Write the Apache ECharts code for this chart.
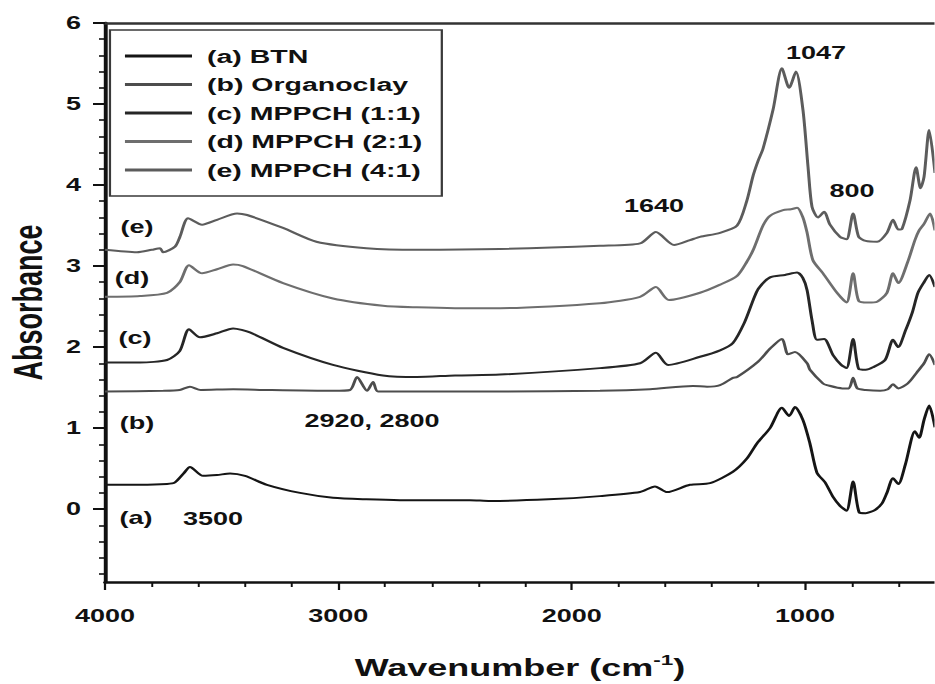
<!DOCTYPE html>
<html><head><meta charset="utf-8">
<script src="https://cdn.jsdelivr.net/npm/echarts@6/dist/echarts.min.js"></script>
<style>
html,body{margin:0;padding:0;background:#fff;overflow:hidden;width:935px;height:684px;}
#chart{position:absolute;left:0;top:0;width:623.333px;height:684px;transform:scaleX(1.5);transform-origin:0 0;}
</style></head><body><div id="chart"></div>
<script>
// ---- data (wavenumber cm-1 / absorbance) ----
const seriesNames = ['(a) BTN', '(b) Organoclay', '(c) MPPCH (1:1)', '(d) MPPCH (2:1)', '(e) MPPCH (4:1)'];
const seriesColors = ['#151515', '#4d4d4d', '#262626', '#6e6e6e', '#5c5c5c'];

const btnWn  = [4000,3850,3734,3700,3660,3636,3580,3520,3464,3400,3306,3164,3023,2880,2736,2436,2350,2100,1879,1707,1643,1591,1493,1407,1309,1250,1206,1150,1099,1068,1043,1009,979,949,914,880,850,822,794,768,740,700,670,649,623,600,570,529,511,490,468,443];
const btnAbs = [0.30,0.30,0.31,0.33,0.45,0.52,0.41,0.42,0.44,0.41,0.30,0.20,0.14,0.12,0.11,0.11,0.10,0.12,0.16,0.21,0.28,0.21,0.30,0.32,0.46,0.62,0.81,1.00,1.25,1.15,1.26,1.10,0.81,0.45,0.33,0.15,0.04,-0.02,0.34,-0.04,-0.05,-0.01,0.07,0.20,0.38,0.31,0.55,0.96,0.88,1.10,1.28,1.01];

const orgWn  = [4000,3750,3680,3636,3590,3450,3300,3023,2950,2920,2877,2851,2830,2700,2307,1879,1664,1480,1420,1364,1309,1291,1201,1150,1099,1073,1043,991,979,923,906,840,812,794,776,740,678,645,623,600,560,520,490,468,443];
const orgAbs = [1.45,1.46,1.47,1.51,1.47,1.48,1.47,1.46,1.47,1.63,1.46,1.57,1.45,1.45,1.45,1.46,1.48,1.52,1.51,1.53,1.62,1.63,1.82,1.98,2.10,1.91,1.94,1.80,1.72,1.55,1.53,1.49,1.49,1.62,1.49,1.47,1.46,1.48,1.54,1.49,1.55,1.69,1.80,1.91,1.78];

const m11Wn  = [4000,3850,3734,3680,3640,3593,3520,3451,3379,3237,3023,2809,2663,2500,2307,1879,1707,1639,1587,1450,1364,1309,1260,1222,1200,1150,1086,1034,1009,991,970,949,918,880,845,822,794,770,740,709,657,623,601,570,541,516,490,468,443];
const m11Abs = [1.81,1.81,1.84,1.95,2.22,2.12,2.17,2.23,2.18,1.99,1.78,1.65,1.63,1.65,1.66,1.74,1.80,1.93,1.78,1.88,1.96,2.05,2.30,2.58,2.72,2.86,2.89,2.92,2.85,2.70,2.33,2.09,2.10,1.90,1.78,1.74,2.10,1.73,1.72,1.75,1.84,2.09,2.00,2.20,2.42,2.67,2.80,2.89,2.74];

const m21Wn  = [4000,3850,3734,3680,3640,3584,3520,3451,3409,3237,3023,2809,2663,2500,2307,1879,1707,1639,1583,1450,1364,1291,1250,1222,1180,1150,1094,1060,1034,1009,991,966,923,863,822,794,770,730,691,649,623,600,560,529,511,490,464,443];
const m21Abs = [2.62,2.63,2.67,2.80,3.01,2.91,2.96,3.02,3.00,2.79,2.60,2.51,2.49,2.48,2.48,2.54,2.62,2.74,2.58,2.67,2.77,2.88,3.05,3.20,3.50,3.62,3.69,3.70,3.72,3.60,3.41,3.07,2.91,2.67,2.55,2.91,2.57,2.55,2.56,2.67,2.91,2.79,3.05,3.32,3.44,3.52,3.65,3.44];

const m41Wn  = [4000,3863,3800,3764,3751,3700,3679,3644,3584,3520,3434,3391,3237,3094,2880,2663,2307,1879,1707,1639,1561,1493,1450,1364,1291,1250,1222,1201,1180,1137,1099,1068,1039,1009,987,970,944,918,893,850,822,794,770,740,691,649,623,600,584,550,524,505,490,468,443];
const m41Abs = [3.20,3.17,3.20,3.22,3.17,3.24,3.36,3.59,3.51,3.57,3.65,3.63,3.47,3.30,3.22,3.20,3.21,3.25,3.28,3.42,3.26,3.32,3.36,3.41,3.50,3.80,4.12,4.30,4.45,4.93,5.44,5.20,5.40,4.93,4.22,3.73,3.60,3.67,3.51,3.36,3.33,3.65,3.36,3.31,3.30,3.41,3.57,3.45,3.46,3.81,4.22,3.96,4.10,4.68,4.15];

// annotations
const annoText = ['1047', '1640', '800', '3500', '2920, 2800', '(a)', '(b)', '(c)', '(d)', '(e)'];
const annoWn   = [953, 1647, 799, 3537, 2856, 3867, 3863, 3871, 3884, 3863];
const annoAbs  = [5.63, 3.75, 3.93, -0.12, 1.09, -0.11, 1.07, 2.11, 2.86, 3.48];

// axis ticks
const xMin = 443, xMax = 4000;
const yMin = -0.9, yMax = 6;
const xMajorTicks = [1000, 2000, 3000, 4000];
const xMinorTicks = [600, 800, 1200, 1400, 1600, 1800, 2200, 2400, 2600, 2800, 3200, 3400, 3600, 3800];
const yMajorTicks = [0, 1, 2, 3, 4, 5, 6];
const yMinorTicks = [-0.8, -0.6, -0.4, -0.2, 0.2, 0.4, 0.6, 0.8, 1.2, 1.4, 1.6, 1.8, 2.2, 2.4, 2.6, 2.8, 3.2, 3.4, 3.6, 3.8, 4.2, 4.4, 4.6, 4.8, 5.2, 5.4, 5.6, 5.8];

// ---- build ----
const FONT = '"Liberation Sans", Arial, Helvetica, sans-serif';
const INK = '#111111';
const pairs = (wn, ab) => wn.map((w, i) => [w, ab[i]]);
const curveData = [pairs(btnWn, btnAbs), pairs(orgWn, orgAbs), pairs(m11Wn, m11Abs), pairs(m21Wn, m21Abs), pairs(m41Wn, m41Abs)];

const lineSeries = seriesNames.map((n, i) => ({
  name: n, type: 'line', xAxisIndex: 0, yAxisIndex: 0,
  data: curveData[i], symbol: 'none', smooth: 0.25,
  lineStyle: { color: seriesColors[i], width: 2 },
  itemStyle: { color: seriesColors[i] },
  silent: true, z: 3
}));

const annoSeries = {
  name: 'annotations', type: 'scatter', xAxisIndex: 0, yAxisIndex: 0,
  symbolSize: 0.01, itemStyle: { color: INK, opacity: 1 }, silent: true, z: 5,
  data: annoText.map((t, i) => ({ name: t, value: [annoWn[i], annoAbs[i]] })),
  label: { show: true, position: 'inside', formatter: '{b}', fontSize: 18, fontWeight: 'bold',
           color: INK, opacity: 1, textBorderWidth: 0, fontFamily: FONT }
};

const baseX = { type: 'value', min: xMin, max: xMax, inverse: true, gridIndex: 0, splitLine: { show: false } };
const baseY = { type: 'value', min: yMin, max: yMax, gridIndex: 0, splitLine: { show: false } };

const option = {
  animation: false,
  backgroundColor: '#ffffff',
  textStyle: { fontFamily: FONT },
  grid: { left: 70, right: 0, top: 23, bottom: 102, containLabel: false, outerBoundsMode: 'none' },
  legend: {
    data: seriesNames, orient: 'vertical', left: 73.3, top: 30, icon: 'rect',
    padding: [16, 13, 16, 10], itemWidth: 44.7, itemHeight: 3, itemGap: 8.5,
    borderColor: '#3a3a3a', borderWidth: 1.5, backgroundColor: '#ffffff',
    textStyle: { fontSize: 19, fontWeight: 'bold', color: INK, lineHeight: 20, padding: [0, 0, 0, 5], fontFamily: FONT }
  },
  xAxis: [
    Object.assign({}, baseX, {
      position: 'bottom',
      axisLine: { show: true, onZero: false, lineStyle: { color: INK, width: 2.5 } },
      axisTick: { show: true, inside: false, length: 8, customValues: xMajorTicks, lineStyle: { color: INK, width: 1.5 } },
      axisLabel: { show: true, customValues: xMajorTicks, margin: 25, fontSize: 18, fontWeight: 'bold', color: INK, fontFamily: FONT,
                   formatter: v => String(v) },
      name: 'Wavenumber (cm{sup|-1})', nameLocation: 'middle', nameGap: 70,
      nameTextStyle: { fontSize: 24, fontWeight: 'bold', color: INK, fontFamily: FONT, lineHeight: 30,
        rich: { sup: { fontSize: 15, fontWeight: 'bold', color: INK, fontFamily: FONT, verticalAlign: 'top', lineHeight: 15 } } }
    }),
    Object.assign({}, baseX, {
      position: 'bottom',
      axisLine: { show: false, onZero: false },
      axisTick: { show: true, inside: false, length: 5, customValues: xMinorTicks, lineStyle: { color: INK, width: 1.3 } },
      axisLabel: { show: false }
    }),
    Object.assign({}, baseX, {
      position: 'top',
      axisLine: { show: true, onZero: false, lineStyle: { color: '#333', width: 2.5 } },
      axisTick: { show: false }, axisLabel: { show: false }
    })
  ],
  yAxis: [
    Object.assign({}, baseY, {
      position: 'left',
      axisLine: { show: true, onZero: false, lineStyle: { color: INK, width: 2.6 } },
      axisTick: { show: true, inside: false, length: 8, customValues: yMajorTicks, lineStyle: { color: INK, width: 2 } },
      axisLabel: { show: true, customValues: yMajorTicks, margin: 16, fontSize: 18, fontWeight: 'bold', color: INK, fontFamily: FONT },
      name: 'Absorbance', nameLocation: 'middle', nameGap: 38,
      nameTextStyle: { fontSize: 27, fontWeight: 'bold', color: INK, fontFamily: FONT }
    }),
    Object.assign({}, baseY, {
      position: 'left',
      axisLine: { show: false, onZero: false },
      axisTick: { show: true, inside: false, length: 4, customValues: yMinorTicks, lineStyle: { color: INK, width: 1.6 } },
      axisLabel: { show: false }
    })
  ],
  series: lineSeries.concat([annoSeries])
};

const chart = echarts.init(document.getElementById('chart'), null, { renderer: 'svg', width: 623.333, height: 684 });
chart.setOption(option);
</script></body></html>
